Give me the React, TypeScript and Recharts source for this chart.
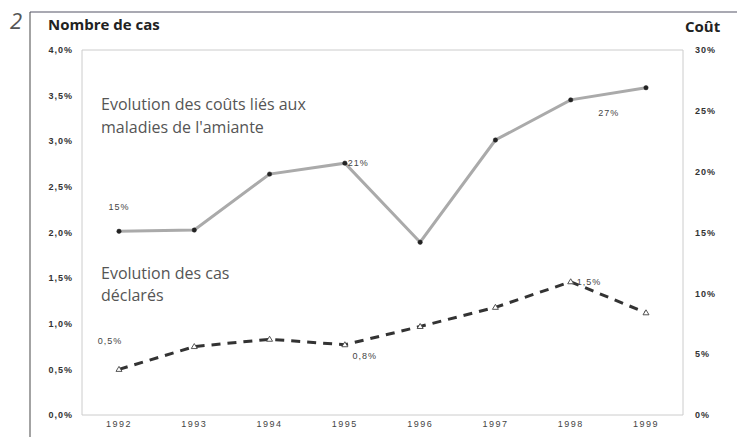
import React from 'react';
import {
  LineChart,
  Line,
  XAxis,
  YAxis,
  ReferenceLine
} from 'recharts';

const years = ['1992', '1993', '1994', '1995', '1996', '1997', '1998', '1999'];
// Nombre de cas (axe de gauche, %)
const cases = [0.5, 0.75, 0.83, 0.77, 0.97, 1.18, 1.46, 1.12];
// Coût (axe de droite, %)
const costs = [15.1, 15.2, 19.8, 20.7, 14.2, 22.6, 25.9, 26.9];
const caseLabels = ['0,5%', '', '', '0,8%', '', '', '1,5%', ''];
const costLabels = ['15%', '', '', '21%', '', '', '27%', ''];
const leftTicks = [0, 0.5, 1, 1.5, 2, 2.5, 3, 3.5, 4];
const rightTicks = [0, 5, 10, 15, 20, 25, 30];

const data = years.map((year, i) => ({ year, cases: cases[i], costs: costs[i] }));

const tickStyle = {
  fontFamily: '"Liberation Sans", Arial, sans-serif',
  fontSize: 9,
  fontWeight: 600,
  fill: '#333',
  letterSpacing: 1
};

type Off = { dx: number; dy: number; anchor: 'start' | 'middle' | 'end' };

const costOffsets: Record<number, Off> = {
  0: { dx: 0, dy: -24, anchor: 'middle' },
  3: { dx: 3, dy: 0, anchor: 'start' },
  6: { dx: 38, dy: 13, anchor: 'middle' }
};
const caseOffsets: Record<number, Off> = {
  0: { dx: -9, dy: -28, anchor: 'middle' },
  3: { dx: 20, dy: 11, anchor: 'middle' },
  6: { dx: 6, dy: 0, anchor: 'start' }
};

const makeLabel = (labels: string[], offsets: Record<number, Off>) => (props: any) => {
  const { x, y, index } = props;
  const text = labels[index];
  const off = offsets[index];
  if (!text || !off) return null;
  return (
    <text
      key={`lbl-${index}`}
      x={x + off.dx}
      y={y + off.dy}
      textAnchor={off.anchor}
      dominantBaseline="central"
      style={{ ...tickStyle, fontWeight: 400, fill: '#444' }}
    >
      {text}
    </text>
  );
};

const Triangle = (props: any) => {
  const { cx, cy, index } = props;
  if (cx == null || cy == null) return null;
  return (
    <path
      key={`tri-${index}`}
      d={`M${cx},${cy - 3} L${cx + 3},${cy + 2} L${cx - 3},${cy + 2} Z`}
      fill="#fff"
      stroke="#444"
      strokeWidth={0.9}
    />
  );
};

const fmtLeft = (v: number) => v.toFixed(1).replace('.', ',') + '%';
const fmtRight = (v: number) => `${v}%`;

export default function App() {
  return (
    <div style={{ position: 'absolute', left: 0, top: 0, width: 737, height: 437, background: '#fff' }}>
      <LineChart
        width={737}
        height={437}
        data={data}
        margin={{ top: 50, right: 0, left: 0, bottom: 0 }}
      >
        <XAxis
          dataKey="year"
          padding={{ left: 37, right: 37 }}
          tickLine={false}
          tickSize={0}
          tickMargin={6}
          height={22}
          axisLine={{ stroke: '#ccc' }}
          tick={{ ...tickStyle, fontWeight: 400, fill: '#444', letterSpacing: 1.5 }}
        />
        <YAxis
          yAxisId="left"
          orientation="left"
          width={82}
          domain={[0, 4]}
          ticks={leftTicks}
          tickFormatter={fmtLeft}
          tickLine={false}
          tickSize={0}
          tickMargin={9}
          axisLine={{ stroke: '#ccc' }}
          tick={tickStyle}
        />
        <YAxis
          yAxisId="right"
          orientation="right"
          width={54}
          domain={[0, 30]}
          ticks={rightTicks}
          tickFormatter={fmtRight}
          tickLine={false}
          tickSize={0}
          tickMargin={12}
          axisLine={{ stroke: '#ccc' }}
          tick={{ ...tickStyle, textAnchor: 'start' }}
        />
        <ReferenceLine yAxisId="left" y={4} stroke="#ccc" />
        <Line
          yAxisId="right"
          dataKey="costs"
          type="linear"
          stroke="#aaa"
          strokeWidth={3}
          dot={{ r: 2.2, fill: '#222', stroke: '#222', strokeWidth: 0.5 }}
          label={makeLabel(costLabels, costOffsets)}
          isAnimationActive={false}
        />
        <Line
          yAxisId="left"
          dataKey="cases"
          type="linear"
          stroke="#333"
          strokeWidth={3}
          strokeDasharray="9 7"
          dot={Triangle}
          label={makeLabel(caseLabels, caseOffsets)}
          isAnimationActive={false}
        />
      </LineChart>
      <svg
        width={737}
        height={437}
        style={{ position: 'absolute', left: 0, top: 0, pointerEvents: 'none' }}
      >
        <line x1={30} y1={12} x2={30} y2={437} stroke="#666" strokeWidth={1.2} />
        <line x1={30} y1={12} x2={737} y2={12} stroke="#556" strokeWidth={1.2} />
        <text x={10} y={29} style={{ fontFamily: '"Open Sans", sans-serif', fontSize: 22, fontStyle: 'italic', fill: '#555' }}>
          2
        </text>
        <text x={48} y={30} style={{ fontFamily: '"Open Sans", sans-serif', fontSize: 15, fontWeight: 700, fill: '#222' }}>
          Nombre de cas
        </text>
        <text x={685} y={32} style={{ fontFamily: '"Open Sans", sans-serif', fontSize: 15, fontWeight: 700, fill: '#222' }}>
          Coût
        </text>
        <g style={{ fontFamily: '"Open Sans", sans-serif', fontSize: 16, fill: '#555' }}>
          <text x={101} y={110}>Evolution des coûts liés aux</text>
          <text x={101} y={133}>maladies de l'amiante</text>
          <text x={101} y={279}>Evolution des cas</text>
          <text x={101} y={301}>déclarés</text>
        </g>
      </svg>
    </div>
  );
}
